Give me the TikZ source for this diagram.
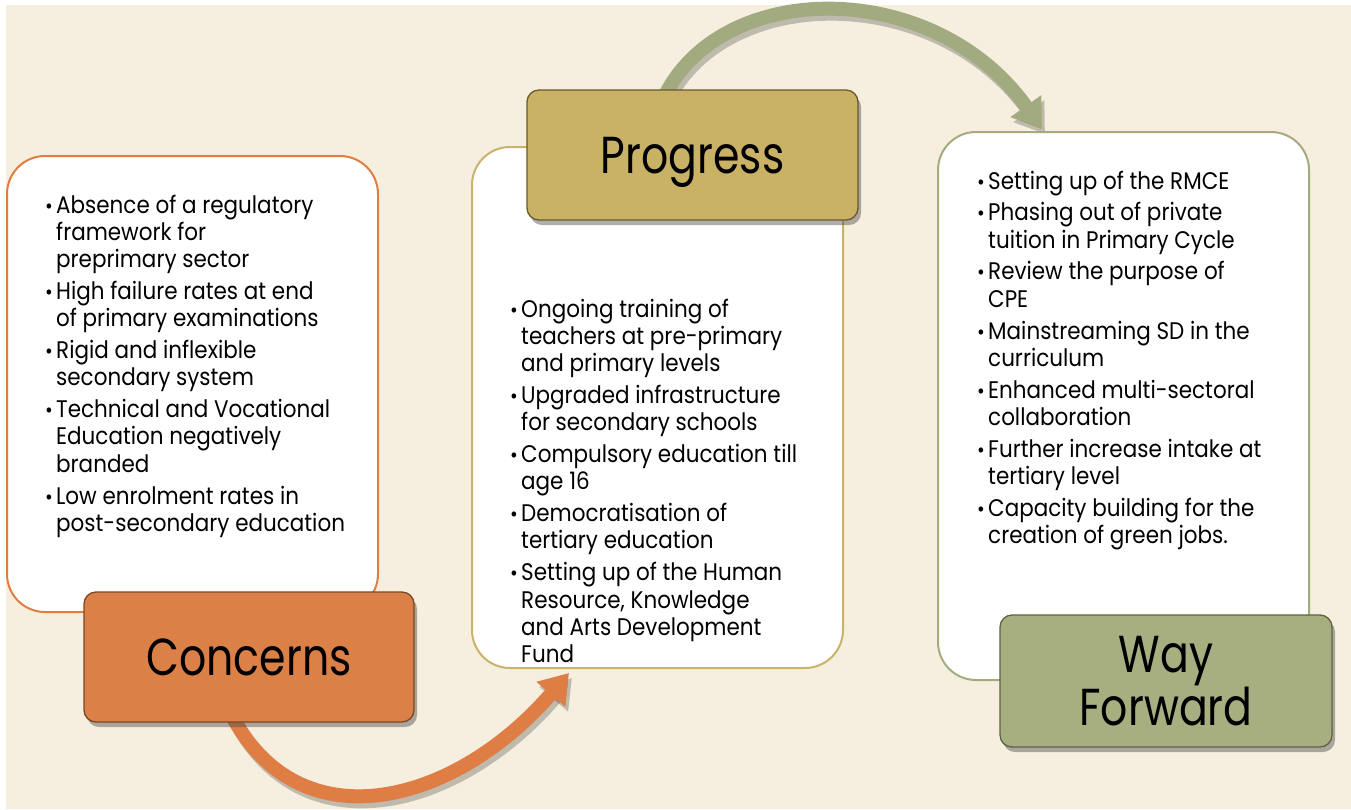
\documentclass[tikz,border=0pt]{standalone}
\usepackage{fontspec}
\setmainfont{Poppins}[FakeStretch=0.895]
\newfontfamily\hfont{Poppins}[FakeStretch=0.82]
\usetikzlibrary{arrows.meta,shadows,calc}
\definecolor{bgc}{HTML}{F6EFDF}
\definecolor{orb}{HTML}{E07E40}
\definecolor{orf}{HTML}{DB8046}
\definecolor{ord}{HTML}{7E4624}
\definecolor{gob}{HTML}{C8B26E}
\definecolor{gof}{HTML}{C9B165}
\definecolor{god}{HTML}{6A5A2A}
\definecolor{grb}{HTML}{A4AC7F}
\definecolor{grf}{HTML}{A7AF81}
\definecolor{grd}{HTML}{5C6243}
\definecolor{aor}{HTML}{DE7E45}
\definecolor{agr}{HTML}{A2AB80}
\newcommand\bodyfont{\fontsize{24}{27.3}\selectfont}
\newcommand\bu{\makebox[12pt][l]{\hspace*{1pt}\raisebox{0pt}{\fontsize{21}{21}\selectfont •}}}
\newcommand\fl[1]{\hbox{\bu #1}}
\newcommand\cl[1]{\hbox{\hspace*{12pt}#1}}
\newcommand\gp{\vskip 4.5pt}
\pgfdeclarelayer{bglayer}
\pgfdeclarelayer{arrowlayer}
\pgfsetlayers{bglayer,arrowlayer,main}
\tikzset{
  content/.style={draw, line width=2pt, fill=white, rounded corners=38pt, inner sep=0pt},
  header/.style={line width=1.3pt, rounded corners=12pt, inner sep=0pt,
     font=\hfont\fontsize{52}{53}\selectfont, text=black, align=center, text depth=0pt,
     drop shadow={shadow xshift=3pt, shadow yshift=-5pt, opacity=0.45, fill=black!70}},
  body/.style={anchor=base west, inner sep=0pt, font=\bodyfont, text=black},
  bigarrow/.style={line width=14pt, -{Triangle[length=28pt,width=36pt]}},
}
\begin{document}
\begin{tikzpicture}[x=1pt,y=-1pt]
\useasboundingbox (0,0) rectangle (1351,809);
\begin{pgfonlayer}{bglayer}
\fill[white] (0,0) rectangle (1351,809);
\fill[bgc] (6,5) rectangle (1351,809);
\end{pgfonlayer}

% content boxes
\node[content, draw=orb, minimum width=371pt, minimum height=456pt] (cbox) at (192.5,384) {};
\node[content, draw=gob, minimum width=371pt, minimum height=521pt] (pbox) at (657.5,407.5) {};
\node[content, draw=grb, minimum width=371pt, minimum height=548pt] (wbox) at (1123.5,406) {};

% headers
\node[header, fill=orf, draw=ord, minimum width=330pt, minimum height=130pt] (chead) at (249,657) {Concerns};
\node[header, fill=gof, draw=god, minimum width=331pt, minimum height=130pt] (phead) at (692.5,155) {Progress};
\node[header, fill=grf, draw=grd, minimum width=332pt, minimum height=132pt] (whead) at (1166,681) {Way\\Forward};

% body texts
\node[body] (ctext) at (44,213) {\vtop{%
\fl{Absence of a regulatory}\cl{framework for}\cl{preprimary sector}\gp
\fl{High failure rates at end}\cl{of primary examinations}\gp
\fl{Rigid and inflexible}\cl{secondary system}\gp
\fl{Technical and Vocational}\cl{Education negatively}\cl{branded}\gp
\fl{Low enrolment rates in}\cl{post-secondary education}}};

\node[body] (ptext) at (509,317) {\vtop{%
\fl{Ongoing training of}\cl{teachers at pre-primary}\cl{and primary levels}\gp
\fl{Upgraded infrastructure}\cl{for secondary schools}\gp
\fl{Compulsory education till}\cl{age 16}\gp
\fl{Democratisation of}\cl{tertiary education}\gp
\fl{Setting up of the Human}\cl{Resource, Knowledge}\cl{and Arts Development}\cl{Fund}}};

\node[body] (wtext) at (976,189) {\vtop{%
\fl{Setting up of the RMCE}\gp
\fl{Phasing out of private}\cl{tuition in Primary Cycle}\gp
\fl{Review the purpose of}\cl{CPE}\gp
\fl{Mainstreaming SD in the}\cl{curriculum}\gp
\fl{Enhanced multi-sectoral}\cl{collaboration}\gp
\fl{Further increase intake at}\cl{tertiary level}\gp
\fl{Capacity building for the}\cl{creation of green jobs.}}};

% arrows
\coordinate (a1s) at ($(chead.south)+(-17,-7)$);
\coordinate (a1e) at ($(pbox.south west)+(98,4)$);
\coordinate (a2s) at ($(phead.north)+(-27,5)$);
\coordinate (a2e) at ($(wbox.north west)+(105,-2)$);
\begin{pgfonlayer}{arrowlayer}
\begin{scope}[transform canvas={shift={(3pt,-5pt)}}]
\draw[bigarrow, draw=black, opacity=0.22] (a1s) .. controls (300,845) and (455,805) .. (a1e);
\draw[bigarrow, draw=black, opacity=0.22] (a2s) .. controls (725,-22) and (935,-22) .. (a2e);
\end{scope}
\draw[bigarrow, draw=aor] (a1s) .. controls (300,845) and (455,805) .. (a1e);
\draw[bigarrow, draw=agr] (a2s) .. controls (725,-22) and (935,-22) .. (a2e);
\end{pgfonlayer}
\end{tikzpicture}
\end{document}
